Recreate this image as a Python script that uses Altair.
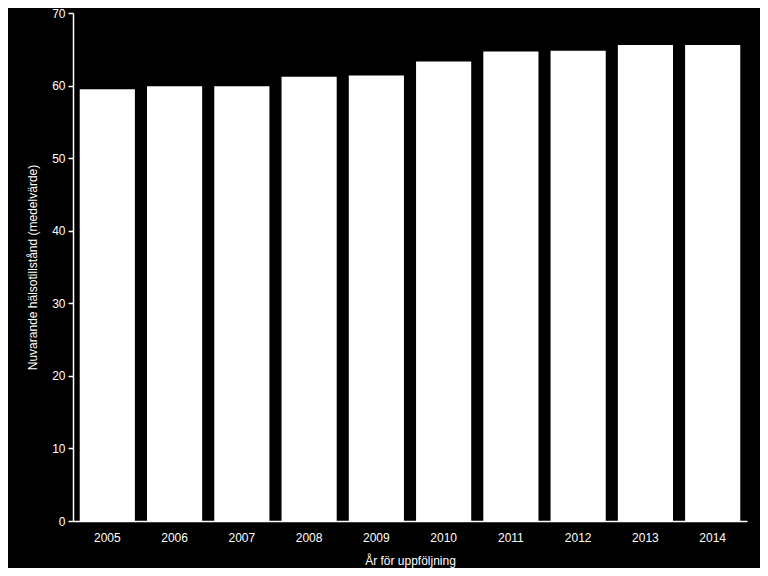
import altair as alt
import pandas as pd

years = ["2005", "2006", "2007", "2008", "2009", "2010", "2011", "2012", "2013", "2014"]
values = [59.5, 59.9, 59.9, 61.2, 61.4, 63.3, 64.7, 64.8, 65.6, 65.6]

df = pd.DataFrame({"year": years, "value": values})

font = "Liberation Sans"

chart = alt.Chart(df).mark_bar(color="white").encode(
    x=alt.X("year:N", sort=years,
            scale=alt.Scale(paddingInner=0.18, paddingOuter=0.1),
            axis=alt.Axis(title="År för uppföljning", labelAngle=0, ticks=False,
                          labelPadding=11, titlePadding=12)),
    y=alt.Y("value:Q", scale=alt.Scale(domain=[0, 70], nice=False),
            axis=alt.Axis(title="Nuvarande hälsotillstånd (medelvärde)",
                          values=[0, 10, 20, 30, 40, 50, 60, 70],
                          tickSize=5, labelPadding=3, titlePadding=12, grid=False)),
).properties(
    width=674, height=508,
    autosize=alt.AutoSizeParams(type="none"),
    padding={"left": 65, "top": 5, "right": 13, "bottom": 47},
    background="black",
).configure_view(
    stroke=None, fill="black"
).configure_axis(
    domainColor="white", tickColor="white", labelColor="white", titleColor="white",
    labelFont=font, titleFont=font, labelFontSize=12, titleFontSize=12,
    titleFontWeight="normal", grid=False, domainWidth=1.5, tickWidth=1.5,
)

chart.save("out.html", embed_options={"renderer": "svg", "actions": False})
